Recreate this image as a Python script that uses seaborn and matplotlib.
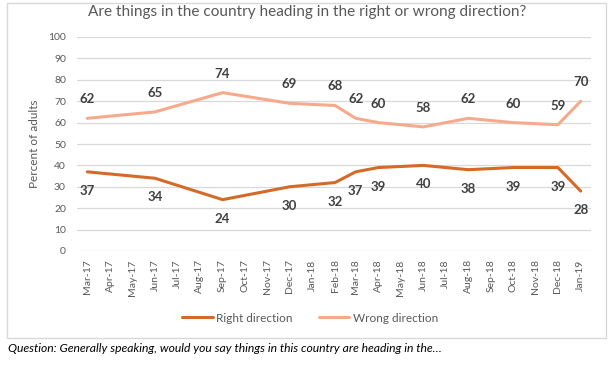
import numpy as np
import pandas as pd
import seaborn as sns
import matplotlib.pyplot as plt
import matplotlib.dates as mdates
from matplotlib.patches import Rectangle

# survey data
survey_months = ["2017-03", "2017-06", "2017-09", "2017-12", "2018-02", "2018-03",
                 "2018-04", "2018-06", "2018-08", "2018-10", "2018-12", "2019-01"]
right_direction = [37, 34, 24, 30, 32, 37, 39, 40, 38, 39, 39, 28]
wrong_direction = [62, 65, 74, 69, 68, 62, 60, 58, 62, 60, 59, 70]
series_names = ["Right direction", "Wrong direction"]


def main():
    sns.set_style("white")
    plt.rcParams["font.family"] = ["Lato", "DejaVu Sans"]

    dates = pd.to_datetime(survey_months)
    df = pd.DataFrame({
        "date": list(dates) * 2,
        "value": right_direction + wrong_direction,
        "series": [series_names[0]] * len(dates) + [series_names[1]] * len(dates),
    })

    colors = {"Right direction": "#D46A27", "Wrong direction": "#F5AA8C"}

    fig = plt.figure(figsize=(6.12, 3.74), dpi=100)
    ax = fig.add_axes([77 / 612, 1 - 251 / 374, (591 - 77) / 612, (251 - 37) / 374])

    sns.lineplot(data=df, x="date", y="value", hue="series", palette=colors,
                 linewidth=2.2, ax=ax, legend=True)

    # data labels: wrong above, right below
    for d, r, w in zip(dates, right_direction, wrong_direction):
        ax.annotate(str(w), (mdates.date2num(d), w), xytext=(0, 13.7), textcoords="offset points",
                    ha="center", va="center", fontsize=9.5, fontweight="bold", color="#404040")
        ax.annotate(str(r), (mdates.date2num(d), r), xytext=(0, -13.7), textcoords="offset points",
                    ha="center", va="center", fontsize=9.5, fontweight="bold", color="#404040")

    ax.set_ylim(0, 100)
    ax.set_yticks(np.arange(0, 101, 10))
    ax.set_xlim(pd.Timestamp("2017-02-15"), pd.Timestamp("2019-01-15"))
    ax.xaxis.set_major_locator(mdates.MonthLocator())
    ax.xaxis.set_major_formatter(mdates.DateFormatter("%b-%y"))
    ax.tick_params(axis="x", rotation=90, labelsize=7.5, labelcolor="#595959", length=0, pad=6)
    ax.tick_params(axis="y", labelsize=7.5, labelcolor="#595959", length=0, pad=8)
    ax.grid(axis="y", color="#D9D9D9", linewidth=0.9)
    for s in ax.spines.values():
        s.set_visible(False)
    ax.set_xlabel("")
    ax.set_ylabel("Percent of adults", fontsize=8.5, color="#595959", labelpad=6)

    ax.legend(loc="center", bbox_to_anchor=(310 / 612, 1 - 318 / 374), bbox_transform=fig.transFigure,
              ncol=2, frameon=False, fontsize=8.5, handlelength=2.6, columnspacing=2.2,
              labelcolor="#595959", handletextpad=0.3)

    fig.text(307 / 612, 1 - 12 / 374, "Are things in the country heading in the right or wrong direction?",
             ha="center", va="center", fontsize=11.1, color="#595959")
    fig.text(8 / 612, 1 - 348 / 374,
             "Question: Generally speaking, would you say things in this country are heading in the\u2026",
             ha="left", va="center", fontsize=8.7, style="italic", color="black")

    fig.patches.append(Rectangle((7 / 612, 1 - 338 / 374), (606 - 7) / 612, (338 - 3) / 374,
                                 transform=fig.transFigure, fill=False, edgecolor="#D9D9D9", linewidth=1))

    fig.savefig("out.png", dpi=100)


if __name__ == "__main__":
    main()
